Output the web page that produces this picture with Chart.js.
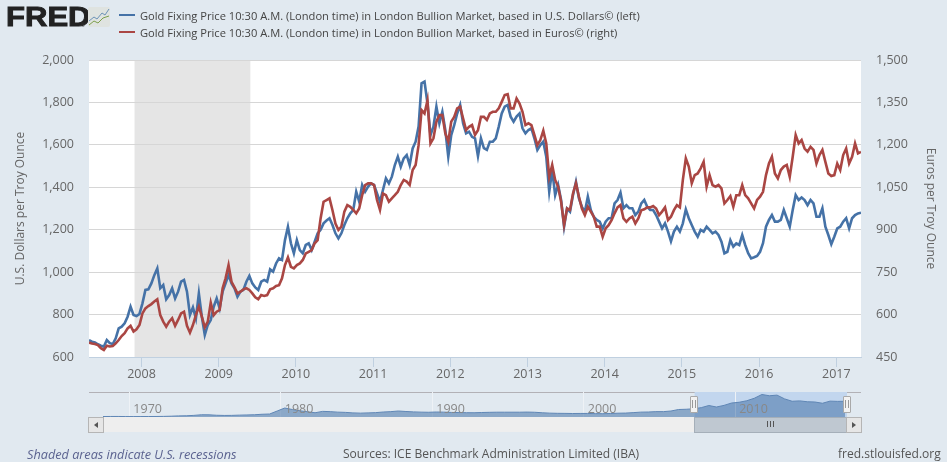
<!DOCTYPE html>
<html>
<head>
<meta charset="utf-8">
<title>Gold Fixing Price</title>
<script src="https://cdn.jsdelivr.net/npm/chart.js@4/dist/chart.umd.min.js"></script>
<style>
html, body { margin: 0; padding: 0; background: #e1e9f0; overflow: hidden; }
body { width: 947px; height: 462px; position: relative; font-family: "Open Sans", sans-serif; color: #444; }
canvas { position: absolute; display: block; }
.abs { position: absolute; }
.logo { left: 6px; top: 2px; font: bold 27px "Liberation Sans", sans-serif; color: #222; -webkit-text-stroke: 0.9px #222; transform: scaleX(1.15); transform-origin: left top; }
.reg { left: 81px; top: 22px; font-size: 5px; line-height: 6px; color: #333; }
.legend-row { left: 119px; height: 16px; white-space: nowrap; font-size: 11.15px; line-height: 16px; color: #444; }
.legend-row i { display: inline-block; width: 16px; height: 2px; vertical-align: 4px; margin-right: 5px; }
.foot { top: 446px; font-size: 12.05px; line-height: 16px; color: #555; white-space: nowrap; }
.handle { top: 396px; width: 6px; height: 15px; background: #f2f2f2; border: 1px solid #a9a9a9; border-radius: 1px; }
.handle::after { content: ""; position: absolute; left: 1px; top: 3px; width: 2px; height: 8px; border-left: 1px solid #999; border-right: 1px solid #999; }
.tri { position: absolute; top: 4px; width: 0; height: 0; border-top: 3px solid transparent; border-bottom: 3px solid transparent; }
</style>
</head>
<body>
<canvas id="mainChart" width="947" height="462" style="left:0;top:0"></canvas>

<div class="abs logo">FRED</div>
<div class="abs reg">®</div>
<svg class="abs" style="left:88px;top:7px" width="22" height="20" viewBox="0 0 22 20">
  <rect width="22" height="20" rx="2" fill="#dfe3e0"/>
  <polyline points="1,14 6,10 9,12 14,6 17,8 21,2" fill="none" stroke="#6d93b8" stroke-width="1"/>
  <polyline points="1,18 6,14 10,16 15,11 21,9" fill="none" stroke="#7ea04d" stroke-width="1"/>
</svg>
<div id="legend"></div>

<div class="abs" style="left:89px;top:392px;width:772px;height:1px;background:#b2b1b6"></div>
<canvas id="navChart" width="744" height="25" style="left:103px;top:392px"></canvas>

<!-- scrollbar under the navigator -->
<div class="abs" style="left:89px;top:417px;width:772px;height:15px;background:#eee"></div>
<div class="abs" style="left:88px;top:417px;width:14px;height:14px;background:#e6e6e6;border:1px solid #b5b5b5"><div class="tri" style="left:5px;border-right:4px solid #555"></div></div>
<div class="abs" style="left:694px;top:417px;width:151px;height:14px;background:#bfc8d1;border:1px solid #a5afb9"></div>
<div class="abs" style="left:767px;top:421px;width:1px;height:6px;background:#555;box-shadow:3px 0 #555,6px 0 #555"></div>
<div class="abs" style="left:846px;top:417px;width:14px;height:14px;background:#e6e6e6;border:1px solid #b5b5b5"><div class="tri" style="left:5px;border-left:4px solid #555"></div></div>
<div class="abs handle" style="left:690px"></div>
<div class="abs handle" style="left:843px"></div>

<div class="abs foot" style="left:27px;font-size:12.7px;font-style:italic;color:#5b6390">Shaded areas indicate U.S. recessions</div>
<div class="abs foot" style="left:343px">Sources: ICE Benchmark Administration Limited (IBA)</div>
<div class="abs foot" style="left:838px">fred.stlouisfed.org</div>

<script>
// series values, one point every two weeks, grouped by year
const usd2007 = [680,672,668,660,653,649,680,665,661,688,735,743,759,790,837,798,793,803];
const usd2008 = [853,916,919,947,986,1018,924,939,872,892,924,876,908,955,963,908,798,834,782,900,790,704,751,774,837,876];
const usd2009 = [829,908,947,986,947,924,884,908,916,955,982,947,928,916,955,963,955,1013,1002,1041,1065,1057,1151,1214,1136,1089];
const usd2010 = [1151,1104,1089,1128,1136,1104,1143,1183,1200,1230,1243,1254,1222,1183,1159,1183,1222,1254,1277,1293,1379,1332,1411,1379,1403,1418];
const usd2011 = [1411,1371,1332,1387,1442,1418,1450,1505,1544,1497,1536,1552,1505,1583,1615,1686,1890,1898,1795,1646,1686,1780,1701,1756,1670,1544];
const usd2012 = [1646,1693,1748,1788,1701,1654,1662,1638,1631,1547,1631,1584,1576,1615,1615,1631,1686,1748,1780,1788,1733,1709,1733,1748,1678,1654];
const usd2013 = [1670,1678,1631,1576,1599,1615,1544,1379,1481,1363,1411,1340,1214,1300,1285,1363,1426,1348,1308,1285,1356,1293,1261,1246,1238,1206];
const usd2014 = [1238,1254,1254,1324,1340,1375,1301,1316,1301,1301,1269,1285,1324,1340,1308,1293,1293,1269,1238,1206,1230,1191,1145,1191,1214,1191];
const usd2015 = [1230,1296,1254,1222,1191,1167,1199,1191,1214,1199,1183,1191,1175,1144,1089,1096,1151,1120,1136,1128,1175,1128,1089,1065,1070,1076];
const usd2016 = [1096,1136,1214,1246,1269,1238,1238,1246,1293,1254,1214,1293,1363,1340,1352,1340,1316,1340,1324,1261,1261,1301,1214,1175,1132,1167];
const usd2017 = [1206,1214,1238,1254,1206,1254,1269,1277,1280];

const eur2007 = [501,498,496,492,481,475,490,487,489,498,510,524,534,551,560,540,548,563];
const eur2008 = [604,622,630,637,646,654,598,575,557,575,587,560,581,604,610,560,536,563,598,628,593,555,575,642,598,610];
const eur2009 = [616,693,728,775,716,696,675,681,689,693,687,675,661,654,669,666,669,689,693,701,704,728,775,802,769,763];
const eur2010 = [775,781,793,816,822,828,852,863,940,999,1005,1011,969,922,899,911,964,987,981,970,958,975,1022,1058,1064,1064];
const eur2011 = [1058,1005,970,1028,1022,999,1011,1022,1034,1058,1076,1070,1058,1111,1129,1199,1323,1311,1358,1205,1223,1282,1305,1305,1240,1211];
const eur2012 = [1282,1299,1329,1335,1293,1252,1264,1270,1235,1252,1299,1299,1288,1311,1317,1317,1329,1352,1376,1379,1329,1329,1364,1346,1317,1270];
const eur2013 = [1276,1270,1235,1199,1217,1250,1205,1087,1129,1076,1052,999,917,975,970,1028,1064,1017,975,952,981,964,946,911,911,875];
const eur2014 = [905,916,934,958,979,987,940,928,940,946,922,940,969,972,979,979,984,975,952,964,979,934,946,969,987,979];
const eur2015 = [1076,1152,1123,1064,1093,1099,1117,1140,1052,1093,1058,1052,1058,1046,993,1005,1019,981,1022,1022,1058,1022,1011,993,975,1005];
const eur2016 = [1017,1034,1093,1134,1158,1099,1081,1111,1123,1129,1087,1158,1235,1205,1217,1187,1176,1193,1182,1134,1164,1182,1140,1099,1090,1093];
const eur2017 = [1134,1111,1164,1187,1134,1158,1205,1170,1175];

const usdValues = [].concat(usd2007, usd2008, usd2009, usd2010, usd2011, usd2012, usd2013, usd2014, usd2015, usd2016, usd2017);
const eurValues = [].concat(eur2007, eur2008, eur2009, eur2010, eur2011, eur2012, eur2013, eur2014, eur2015, eur2016, eur2017);

const startYear = 2007.32;
const pointsPerYear = 26;
const yearTicks = [2008, 2009, 2010, 2011, 2012, 2013, 2014, 2015, 2016, 2017];
const recessionFrom = 2007.91;
const recessionTo = 2009.41;

const seriesNames = [
    "Gold Fixing Price 10:30 A.M. (London time) in London Bullion Market, based in U.S. Dollars\u00a9 (left)",
    "Gold Fixing Price 10:30 A.M. (London time) in London Bullion Market, based in Euros\u00a9 (right)"
];
const seriesColors = ["#4572A7", "#AA4643"];

// navigator: whole history of the dollar series, two values a year from 1968
const navStart = 1968.26;
const navValues = [38,42,43,36,35,37,39,42,48,64,90,100,130,180,175,140,125,130,150,165,180,220,240,480,
    720,600,500,420,340,450,430,390,370,330,310,330,350,400,430,480,440,410,390,380,400,390,365,355,345,340,
    360,375,385,385,385,385,395,380,340,310,295,290,280,285,285,270,265,280,305,315,350,390,400,430,430,480,
    600,620,660,750,920,800,930,1120,1180,1300,1500,1800,1700,1750,1450,1260,1290,1220,1200,1100,1270,1250,1260];
const navDecades = [1970, 1980, 1990, 2000, 2010];

function zipYears(values, start, perYear) {
    return values.map((v, i) => ({ x: start + i / perYear, y: v }));
}

function withCommas(v) {
    return Number(v).toLocaleString("en-US");
}

// legend rows
seriesNames.forEach((name, i) => {
    const row = document.createElement("div");
    row.className = "abs legend-row";
    row.style.top = (8 + i * 17) + "px";
    row.innerHTML = `<i style="background:${seriesColors[i]}"></i>${name}`;
    document.getElementById("legend").appendChild(row);
});

// white plot area and recession band, under the grid
const plotBackground = {
    id: "plotBackground",
    beforeDraw(chart) {
        const { ctx, chartArea: a, scales } = chart;
        ctx.save();
        ctx.fillStyle = "#ffffff";
        ctx.fillRect(a.left, a.top, a.right - a.left, a.bottom - a.top);
        const x0 = scales.x.getPixelForValue(recessionFrom);
        const x1 = scales.x.getPixelForValue(recessionTo);
        ctx.fillStyle = "#e5e5e5";
        ctx.fillRect(x0, a.top, x1 - x0, a.bottom - a.top);
        ctx.restore();
    }
};

const tickFont = { family: "'Open Sans', sans-serif", size: 12.5 };
const titleFont = { family: "'Open Sans', sans-serif", size: 12 };

new Chart(document.getElementById("mainChart").getContext("2d"), {
    type: "line",
    data: {
        datasets: [
            { label: seriesNames[0], data: zipYears(usdValues, startYear, pointsPerYear), yAxisID: "y", borderColor: seriesColors[0], borderWidth: 2.6, pointRadius: 0, tension: 0, order: 2 },
            { label: seriesNames[1], data: zipYears(eurValues, startYear, pointsPerYear), yAxisID: "y2", borderColor: seriesColors[1], borderWidth: 2.6, pointRadius: 0, tension: 0, order: 1 }
        ]
    },
    options: {
        responsive: false,
        animation: false,
        layout: { padding: { top: 60, left: 0, right: 0, bottom: 0 } },
        plugins: { legend: { display: false }, tooltip: { enabled: false } },
        scales: {
            x: {
                type: "linear",
                min: startYear,
                max: startYear + 10,
                afterBuildTicks(scale) { scale.ticks = yearTicks.map(v => ({ value: v })); },
                afterFit(scale) { scale.height = 105; },
                grid: { drawOnChartArea: false, tickLength: 10, tickColor: "#c0d0e0" },
                border: { color: "#c0d0e0" },
                ticks: { color: "#666", font: tickFont, padding: 0, maxRotation: 0, autoSkip: false, callback: v => String(v) }
            },
            y: {
                position: "left",
                min: 600,
                max: 2000,
                afterFit(scale) { scale.width = 89; },
                grid: { color: "#d6d6d6", drawTicks: false },
                border: { display: false },
                ticks: { stepSize: 200, color: "#666", font: tickFont, padding: 15, callback: withCommas },
                title: { display: true, text: "U.S. Dollars per Troy Ounce", color: "#666", font: titleFont, padding: { top: 13, bottom: 0 } }
            },
            y2: {
                position: "right",
                min: 450,
                max: 1500,
                afterFit(scale) { scale.width = 86; },
                grid: { drawOnChartArea: false, drawTicks: false },
                border: { display: false },
                ticks: { stepSize: 150, color: "#666", font: tickFont, padding: 15, callback: withCommas },
                title: { display: true, text: "Euros per Troy Ounce", color: "#666", font: titleFont, padding: { top: 9, bottom: 0 } }
            }
        }
    },
    plugins: [plotBackground]
});

// navigator selection band and decade labels
const navDecorations = {
    id: "navDecorations",
    beforeDraw(chart) {
        const { ctx, chartArea: a, scales } = chart;
        const x0 = scales.x.getPixelForValue(startYear);
        ctx.save();
        ctx.fillStyle = "#c2d6ee";
        ctx.fillRect(x0, a.top, a.right - x0, a.bottom - a.top);
        ctx.restore();
    },
    afterDatasetsDraw(chart) {
        const { ctx, scales } = chart;
        ctx.save();
        ctx.font = "12.5px 'Open Sans', sans-serif";
        ctx.fillStyle = "#888";
        ctx.textBaseline = "middle";
        navDecades.forEach(year => ctx.fillText(String(year), scales.x.getPixelForValue(year) + 4, 17.5));
        ctx.restore();
    }
};

new Chart(document.getElementById("navChart").getContext("2d"), {
    type: "line",
    data: {
        datasets: [{
            data: zipYears(navValues, navStart, 2),
            borderColor: "#5f86b5",
            borderWidth: 1,
            backgroundColor: "rgba(69,114,167,0.55)",
            fill: "origin",
            pointRadius: 0,
            tension: 0
        }]
    },
    options: {
        responsive: false,
        animation: false,
        layout: { padding: 0 },
        plugins: { legend: { display: false }, tooltip: { enabled: false } },
        scales: {
            x: {
                type: "linear",
                min: navStart,
                max: 2017.38,
                afterBuildTicks(scale) { scale.ticks = navDecades.map(v => ({ value: v })); },
                grid: { color: "#eef2f6", drawTicks: false },
                border: { display: false },
                ticks: { display: false }
            },
            y: { display: false, min: 0, max: 2000 }
        }
    },
    plugins: [navDecorations]
});
</script>
</body>
</html>
